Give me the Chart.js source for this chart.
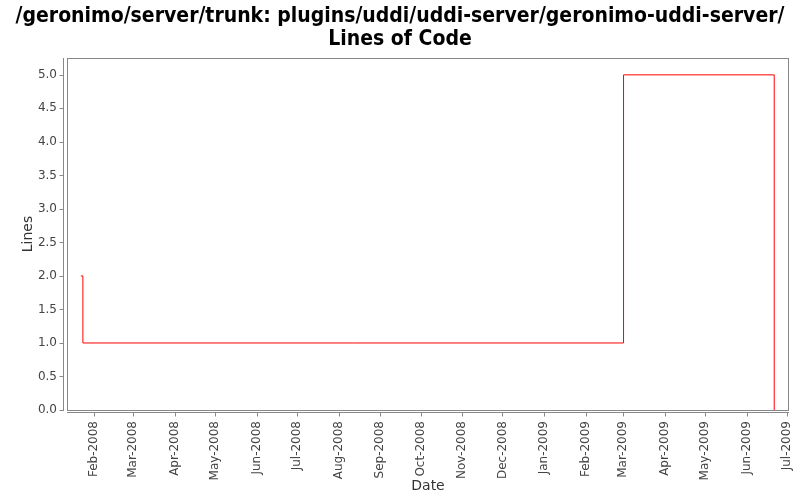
<!DOCTYPE html>
<html>
<head>
<meta charset="utf-8">
<script src="https://cdn.jsdelivr.net/npm/chart.js@4.4.1/dist/chart.umd.min.js"></script>
<style>
html,body{margin:0;padding:0;background:#fff;}
canvas{display:block;}
</style>
</head>
<body>
<canvas id="c" width="800" height="500"></canvas>
<script>
// ---- data ----
const titleLines = ["/geronimo/server/trunk: plugins/uddi/uddi-server/geronimo-uddi-server/", "Lines of Code"];
const dates = ["2008-01-22T00:00:00Z", "2008-01-23T12:00:00Z", "2009-03-01T06:00:00Z", "2009-06-21T12:00:00Z"];
const lines = [2, 1, 5, 0];
const tickDates = ["2008-02-01","2008-03-01","2008-04-01","2008-05-01","2008-06-01","2008-07-01","2008-08-01","2008-09-01","2008-10-01","2008-11-01","2008-12-01","2009-01-01","2009-02-01","2009-03-01","2009-04-01","2009-05-01","2009-06-01","2009-07-01"];
const tickLabels = ["Feb-2008","Mar-2008","Apr-2008","May-2008","Jun-2008","Jul-2008","Aug-2008","Sep-2008","Oct-2008","Nov-2008","Dec-2008","Jan-2009","Feb-2009","Mar-2009","Apr-2009","May-2009","Jun-2009","Jul-2009"];
const yTicks = [0, 0.5, 1, 1.5, 2, 2.5, 3, 3.5, 4, 4.5, 5];
const xRange = ["2008-01-11T16:00:00Z", "2009-07-02T12:00:00Z"];
const yRange = [0, 5.25];

const ms = s => Date.parse(s.length === 10 ? s + "T00:00:00Z" : s);
const points = dates.map((d, i) => ({x: ms(d), y: lines[i]}));
const tickVals = tickDates.map(ms);

const axisColor = "#888888";
const framePlugin = {
  id: "frame",
  beforeDatasetsDraw(chart) {
    const {ctx, chartArea: a, scales} = chart;
    ctx.save();
    ctx.strokeStyle = axisColor;
    ctx.lineWidth = 1;
    ctx.strokeRect(Math.round(a.left) + 0.5, Math.round(a.top) + 0.5, Math.round(a.right - a.left) - 1, Math.round(a.bottom - a.top));
    const yx = Math.round(a.left) - 4 + 0.5;
    ctx.beginPath();
    ctx.moveTo(yx, Math.round(a.top));
    ctx.lineTo(yx, Math.round(a.bottom) + 1);
    yTicks.forEach(v => {
      const py = Math.round(scales.y.getPixelForValue(v)) + 0.5;
      ctx.moveTo(yx - 4, py);
      ctx.lineTo(yx, py);
    });
    const xy = Math.round(a.bottom) + 2 + 0.5;
    ctx.moveTo(Math.round(a.left), xy);
    ctx.lineTo(Math.round(a.right), xy);
    tickVals.forEach(v => {
      const px = Math.round(scales.x.getPixelForValue(v)) + 0.5;
      ctx.moveTo(px, xy);
      ctx.lineTo(px, xy + 4);
    });
    ctx.stroke();
    ctx.restore();
  }
};

new Chart(document.getElementById("c"), {
  type: "line",
  data: {
    datasets: [{
      data: points,
      borderColor: "#ff0000",
      borderWidth: 1,
      pointRadius: 0,
      stepped: true,
      fill: false
    }]
  },
  options: {
    responsive: false,
    animation: false,
    layout: {padding: {left: 0, right: 0, top: 0, bottom: 0}},
    plugins: {
      legend: {display: false},
      tooltip: {enabled: false},
      title: {
        display: true,
        text: titleLines,
        color: "#000",
        font: {family: "'DejaVu Sans Condensed', 'DejaVu Sans'", size: 21, weight: "bold", lineHeight: 1.05},
        padding: {top: 6, bottom: 8}
      }
    },
    scales: {
      x: {
        type: "linear",
        min: ms(xRange[0]),
        max: ms(xRange[1]),
        afterBuildTicks: s => { s.ticks = tickVals.map(v => ({value: v})); },
        afterFit: s => { s.height = 90; s.paddingRight = 11; },
        grid: {display: false},
        border: {display: false},
        ticks: {
          autoSkip: false,
          minRotation: 90,
          maxRotation: 90,
          padding: 3,
          color: "#444",
          font: {family: "'DejaVu Sans'", size: 12},
          callback: (v, i) => tickLabels[i]
        },
        title: {
          display: true,
          text: "Date",
          color: "#333",
          font: {family: "'DejaVu Sans'", size: 14},
          padding: {top: 0, bottom: 5}
        }
      },
      y: {
        min: yRange[0],
        max: yRange[1],
        afterBuildTicks: s => { s.ticks = yTicks.map(v => ({value: v})); },
        afterFit: s => { s.width = 67; },
        grid: {display: false},
        border: {display: false},
        ticks: {
          padding: 2,
          color: "#444",
          font: {family: "'DejaVu Sans'", size: 12},
          callback: v => Number(v).toFixed(1)
        },
        title: {
          display: true,
          text: "Lines",
          color: "#333",
          font: {family: "'DejaVu Sans'", size: 14},
          padding: {top: 20, bottom: 0}
        }
      }
    }
  },
  plugins: [framePlugin]
});
</script>
</body>
</html>
